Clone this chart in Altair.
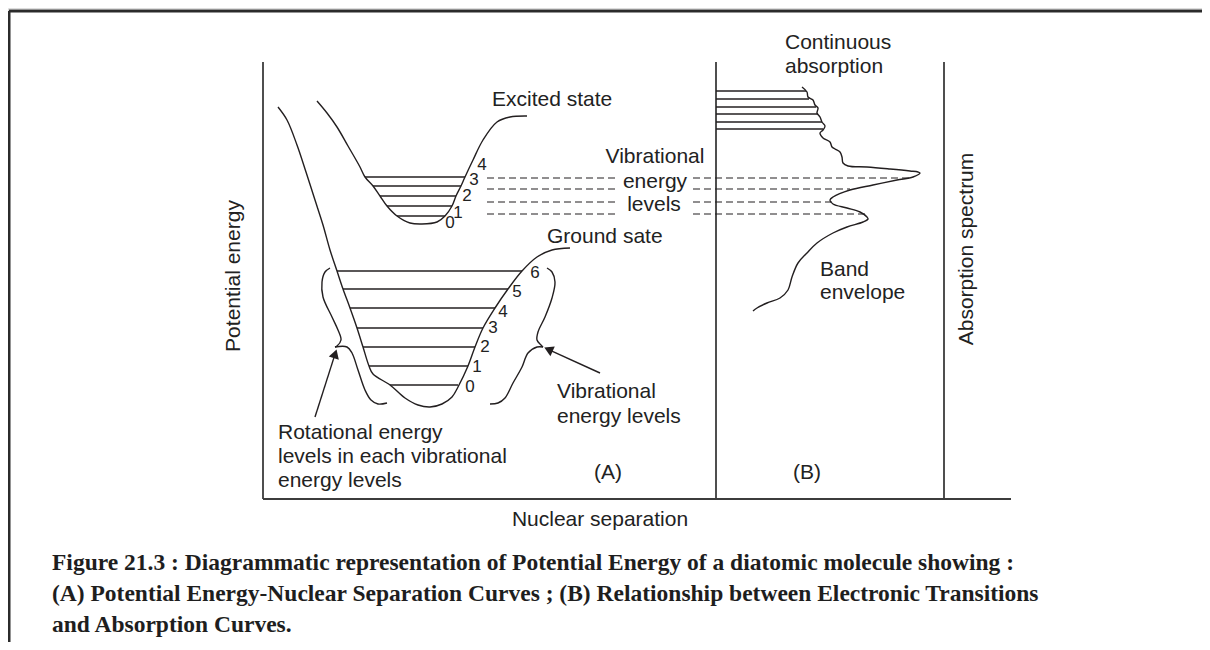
import math
import altair as alt
import pandas as pd

# ---------------- data (positions, image pixels) ----------------
# Ground-state potential curve
ground_x = [278, 287, 297, 306, 315, 323, 330, 337, 343, 350, 357, 363, 369, 373, 390, 405, 418, 430, 442, 452, 458, 468, 475, 483, 495, 508, 522, 537, 552, 570]
ground_y = [107, 120, 145, 172, 200, 225, 250, 271, 289, 308, 328, 347, 366, 374, 385, 398, 405, 407, 404, 397, 387, 366, 347, 328, 308, 289, 271, 257, 250, 248]
# Excited-state potential curve
excited_x = [317, 327, 337, 348, 360, 365, 373, 380, 387, 397, 410, 422, 437, 445, 452, 456, 461, 465, 473, 483, 497, 510, 527]
excited_y = [101, 113, 127, 146, 167, 177, 186, 196, 206, 216, 223, 224, 222, 216, 206, 196, 186, 177, 160, 140, 122, 117, 116]
# Absorption band envelope (B)
spectrum_x = [802, 807, 808, 813, 815, 818, 817, 820, 822, 825, 823, 820, 823, 830, 832, 835, 840, 842, 843, 848, 867, 890, 910, 918, 920, 913, 897, 873, 850, 833, 830, 833, 847, 860, 867, 868, 863, 847, 833, 817, 807, 798, 792, 788, 780, 767, 757, 753]
spectrum_y = [87, 92, 97, 100, 105, 108, 113, 117, 122, 126, 130, 133, 138, 142, 147, 149, 152, 157, 163, 166, 167, 169, 171, 172, 173, 177, 180, 185, 190, 197, 200, 204, 208, 212, 217, 219, 222, 227, 233, 243, 253, 263, 277, 290, 298, 303, 308, 311]
# Braces
lbrace_top_x = [330, 325, 322, 323, 332, 338, 341, 337, 335]
lbrace_top_y = [268, 272, 282, 297, 317, 330, 340, 346, 347]
lbrace_bot_x = [335, 347, 352, 358, 365, 371, 378, 387]
lbrace_bot_y = [347, 347, 353, 370, 390, 400, 404, 403]
rbrace_top_x = [547, 552, 555, 552, 545, 538, 537, 541, 543]
rbrace_top_y = [268, 272, 282, 298, 317, 332, 340, 345, 347]
rbrace_bot_x = [543, 537, 528, 522, 513, 505, 498, 490]
rbrace_bot_y = [347, 347, 353, 367, 383, 398, 403, 404]

# Vibrational levels, excited state
exc_lvl_y = [177, 186, 196, 206, 216]
exc_lvl_x1 = [365, 373, 380, 387, 397]
exc_lvl_x2 = [465, 461, 456, 452, 445]
exc_lbl = ["4", "3", "2", "1", "0"]
exc_lbl_x = [482, 474, 467, 458, 450]
exc_lbl_y = [165, 180, 196, 213, 223]
# Vibrational levels, ground state
gnd_lvl_y = [271, 289, 308, 328, 347, 366, 385]
gnd_lvl_x1 = [337, 343, 350, 357, 363, 369, 390]
gnd_lvl_x2 = [522, 508, 495, 483, 475, 468, 458]
gnd_lbl = ["6", "5", "4", "3", "2", "1", "0"]
gnd_lbl_x = [535, 517, 503, 493, 485, 477, 470]
gnd_lbl_y = [273, 292, 312, 328, 347, 367, 387]
# Continuous absorption lines
cont_y = [91, 99, 107, 114, 122, 129]
cont_x2 = [806, 809, 816, 818, 822, 823]
# Dashed transition lines
dash_y = [178, 189, 202, 214]
dash_left_x1 = [487, 487, 487, 487]
dash_left_x2 = [617, 617, 617, 617]
dash_right_x1 = [693, 693, 693, 693]
dash_right_x2 = [913, 850, 832, 865]

# Frame & axes segments: x, y, x2, y2
frame_seg = [(9, 11, 1202, 11), (9, 11, 9, 642)]
axis_seg = [(263, 62, 263, 499), (263, 499, 1011, 499), (716, 62, 716, 499), (944, 62, 944, 499)]

# Arrows: tail -> tip
arrows = [((315, 417), (337, 348)), ((600, 373), (543, 347))]

# Texts
left_texts = [("Excited state", 492, 100), ("Ground sate", 547, 237), ("Continuous", 785, 43),
              ("absorption", 785, 67), ("Band", 820, 270), ("envelope", 820, 293),
              ("Vibrational", 557, 392), ("energy levels", 557, 417),
              ("Rotational energy", 278, 433), ("levels in each vibrational", 278, 457),
              ("energy levels", 278, 481)]
center_texts = [("Vibrational", 655, 157), ("energy", 655, 182), ("levels", 654, 205),
                ("(A)", 608, 473), ("(B)", 807, 473), ("Nuclear separation", 600, 520)]
rot_texts = [("Potential energy", 234, 276), ("Absorption spectrum", 967, 249)]
caption_lines = ["Figure 21.3 : Diagrammatic representation of Potential Energy of a diatomic molecule showing :",
                 "(A) Potential Energy-Nuclear Separation Curves ; (B) Relationship between Electronic Transitions",
                 "and Absorption Curves."]
caption_x = [52, 52, 52]
caption_y = [563, 594, 625]

# ---------------- build tables ----------------
INK = "#231f20"
AX = "#3c3c3c"
FONT = "Liberation Sans"

def poly(name, xs, ys):
    return pd.DataFrame({"name": name, "i": range(len(xs)), "x": xs, "y": ys})

curves = pd.concat([
    poly("ground", ground_x, ground_y),
    poly("excited", excited_x, excited_y),
    poly("spectrum", spectrum_x, spectrum_y),
    poly("lb1", lbrace_top_x, lbrace_top_y),
    poly("lb2", lbrace_bot_x, lbrace_bot_y),
    poly("rb1", rbrace_top_x, rbrace_top_y),
    poly("rb2", rbrace_bot_x, rbrace_bot_y),
], ignore_index=True)

levels = pd.concat([
    pd.DataFrame({"x": exc_lvl_x1, "x2": exc_lvl_x2, "y": exc_lvl_y}),
    pd.DataFrame({"x": gnd_lvl_x1, "x2": gnd_lvl_x2, "y": gnd_lvl_y}),
    pd.DataFrame({"x": [716] * len(cont_y), "x2": cont_x2, "y": cont_y}),
], ignore_index=True)

dashes = pd.concat([
    pd.DataFrame({"x": dash_left_x1, "x2": dash_left_x2, "y": dash_y}),
    pd.DataFrame({"x": dash_right_x1, "x2": dash_right_x2, "y": dash_y}),
], ignore_index=True)

frame_df = pd.DataFrame(frame_seg, columns=["x", "y", "x2", "y2"])
axis_df = pd.DataFrame(axis_seg, columns=["x", "y", "x2", "y2"])

arrow_lines = []
arrow_heads = []
for (tx, ty), (hx, hy) in arrows:
    dx, dy = hx - tx, hy - ty
    L = math.hypot(dx, dy)
    ux, uy = dx / L, dy / L
    arrow_lines.append((tx, ty, hx - ux * 8, hy - uy * 8))
    ang = math.degrees(math.atan2(dx, -dy)) % 360
    arrow_heads.append((hx - ux * 6, hy - uy * 6, ang))
arrow_line_df = pd.DataFrame(arrow_lines, columns=["x", "y", "x2", "y2"])
arrow_head_df = pd.DataFrame(arrow_heads, columns=["x", "y", "ang"])

digits_df = pd.DataFrame({"t": exc_lbl + gnd_lbl, "x": exc_lbl_x + gnd_lbl_x, "y": exc_lbl_y + gnd_lbl_y})
left_df = pd.DataFrame(left_texts, columns=["t", "x", "y"])
center_df = pd.DataFrame(center_texts, columns=["t", "x", "y"])
rot_df = pd.DataFrame(rot_texts, columns=["t", "x", "y"])
cap_df = pd.DataFrame({"t": caption_lines, "x": caption_x, "y": caption_y})

# ---------------- chart ----------------
W, H = 1194, 634
X = alt.X("x:Q", scale=alt.Scale(domain=[8, 8 + W], nice=False, zero=False), axis=None)
Y = alt.Y("y:Q", scale=alt.Scale(domain=[8, 8 + H], nice=False, zero=False, reverse=True), axis=None)

frame = alt.Chart(frame_df).mark_rule(color="#2b2b2b", strokeWidth=3).encode(X, Y, x2="x2:Q", y2="y2:Q")
axes = alt.Chart(axis_df).mark_rule(color=AX, strokeWidth=1.8).encode(X, Y, x2="x2:Q", y2="y2:Q")
curve = alt.Chart(curves).mark_line(color=INK, strokeWidth=1.4, interpolate="catmull-rom").encode(
    X, Y, detail="name:N", order="i:Q")
lvl = alt.Chart(levels).mark_rule(color=INK, strokeWidth=1.6).encode(X, Y, x2="x2:Q")
dsh = alt.Chart(dashes).mark_rule(color=INK, strokeWidth=1.2, strokeDash=[7, 4]).encode(X, Y, x2="x2:Q")
arl = alt.Chart(arrow_line_df).mark_rule(color=INK, strokeWidth=1.4).encode(X, Y, x2="x2:Q", y2="y2:Q")
arh = alt.Chart(arrow_head_df).mark_point(shape="triangle-up", filled=True, color=INK, opacity=1, size=110).encode(
    X, Y, angle=alt.Angle("ang:Q", scale=None))

txt_common = dict(font=FONT, fontSize=21, color="#222222", baseline="middle")
tl = alt.Chart(left_df).mark_text(align="left", **txt_common).encode(X, Y, text="t:N")
tc = alt.Chart(center_df).mark_text(align="center", **txt_common).encode(X, Y, text="t:N")
tr = alt.Chart(rot_df).mark_text(align="center", angle=270, **txt_common).encode(X, Y, text="t:N")
td = alt.Chart(digits_df).mark_text(align="center", font=FONT, fontSize=17, color="#222222", baseline="middle").encode(
    X, Y, text="t:N")
cap = alt.Chart(cap_df).mark_text(align="left", baseline="middle", font="Liberation Serif", fontWeight="bold",
                                   fontSize=23.5, color="#1e1e1e").encode(X, Y, text="t:N")

chart = alt.layer(frame, axes, curve, lvl, dsh, arl, arh, tl, tc, tr, td, cap).properties(
    width=W, height=H, autosize=alt.AutoSizeParams(type="none"), padding=0
).configure_view(stroke=None).configure(background="white")

chart.save("out.html", embed_options={"renderer": "svg", "actions": False})
